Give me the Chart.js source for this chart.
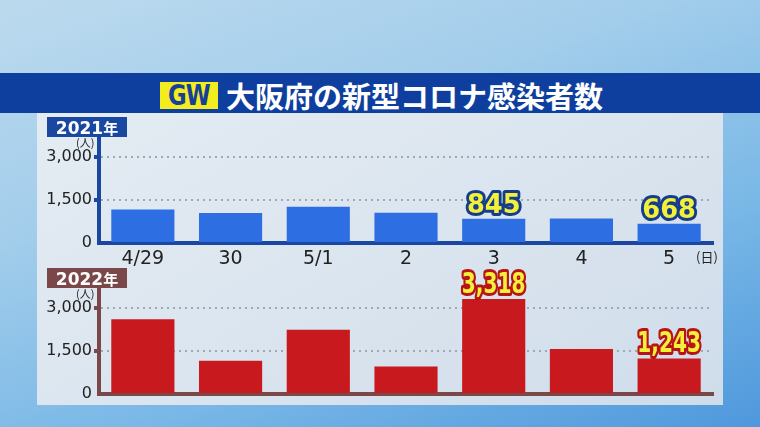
<!DOCTYPE html>
<html>
<head>
<meta charset="utf-8">
<script src="https://cdn.jsdelivr.net/npm/chart.js@4"></script>
<style>
  body {
    margin: 0;
    width: 760px;
    height: 427px;
    overflow: hidden;
    position: relative;
    font-family: "Noto Sans CJK JP", sans-serif;
    background: linear-gradient(160deg, #bcdaee 0%, #a2cdeb 35%, #76b6e6 70%, #4f98dc 100%);
  }
  #band {
    position: absolute; left: 0; top: 73px; width: 760px; height: 40px;
    background: #0f3f9e;
  }
  #gw {
    position: absolute; left: 160px; top: 82px; width: 58px; height: 27px;
    background: #f3ec1e; color: #16409a;
    font: bold 29px "DejaVu Sans", sans-serif; line-height: 27px; text-align: center;
    letter-spacing: -1px;
  }
  #gw span { display: inline-block; transform: scaleX(0.78); }
  #title {
    position: absolute; left: 226px; top: 75px; height: 40px; line-height: 40px;
    color: #fff; font-weight: bold; font-size: 29px; white-space: nowrap;
  }
  #panel {
    position: absolute; left: 37px; top: 113px; width: 686px; height: 292px;
    background: linear-gradient(150deg, #e4ecf3 0%, #dbe5ef 50%, #cfdcea 100%);
  }
  .year {
    position: absolute; left: 47px; width: 80px; height: 20px; line-height: 20px;
    color: #fff; font: bold 17px "DejaVu Sans", sans-serif; text-align: center;
  }
  .year span { font-family: "Noto Sans CJK JP", sans-serif; font-size: 15px; }
  .unit {
    position: absolute; color: #222; font-size: 11px; line-height: 12px;
  }
  .wrap { position: absolute; left: 0; width: 760px; }
</style>
</head>
<body>
<div id="band"></div>
<div id="gw"><span>GW</span></div>
<div id="title">大阪府の新型コロナ感染者数</div>
<div id="panel"></div>

<div class="wrap" style="top:110px;height:160px"><canvas id="c2021" width="760" height="160"></canvas></div>
<div class="wrap" style="top:260px;height:150px"><canvas id="c2022" width="760" height="150"></canvas></div>

<div class="year" style="top:117px;background:#1a47a0">2021<span>年</span></div>
<div class="year" style="top:268px;background:#7a4848">2022<span>年</span></div>
<div class="unit" style="left:76px;top:136px">(人)</div>
<div class="unit" style="left:76px;top:287px">(人)</div>
<div class="unit" style="left:696px;top:251px;font-size:13px">(日)</div>

<script>
// data
const days = ["4/29", "30", "5/1", "2", "3", "4", "5"];
const cases2021 = [1172, 1049, 1262, 1057, 845, 859, 668];
const cases2022 = [2610, 1160, 2240, 960, 3318, 1570, 1243];
const yTicks = [0, 1500, 3000];
const yMax = 3700;
const labelIdx = [4, 6]; // bars with a value label

function valueLabels(outline, fontSize, squeeze) {
  return {
    id: "valueLabels",
    afterDatasetsDraw(chart) {
      const ctx = chart.ctx;
      const meta = chart.getDatasetMeta(0);
      const vals = chart.data.datasets[0].data;
      labelIdx.forEach(i => {
        const bar = meta.data[i];
        const txt = vals[i].toLocaleString("en-US");
        ctx.save();
        ctx.translate(bar.x, bar.y - 6);
        ctx.scale(squeeze, 1);
        ctx.font = "bold " + fontSize + "px 'DejaVu Sans'";
        ctx.textAlign = "center";
        ctx.textBaseline = "alphabetic";
        ctx.lineJoin = "round";
        ctx.lineWidth = 6;
        ctx.strokeStyle = outline;
        ctx.strokeText(txt, 0, 0);
        ctx.fillStyle = "#f2f03a";
        ctx.fillText(txt, 0, 0);
        ctx.restore();
      });
    }
  };
}

function makeChart(id, values, barColor, axisColor, outline, showX, padTop, fontSize, squeeze) {
  const h = document.getElementById(id).height;
  return new Chart(document.getElementById(id), {
    type: "bar",
    data: {
      labels: days,
      datasets: [{
        data: values,
        backgroundColor: barColor,
        categoryPercentage: 1,
        barPercentage: 0.72
      }]
    },
    options: {
      responsive: false,
      animation: false,
      layout: { padding: { left: 0, right: 47, top: padTop, bottom: 0 } },
      plugins: { legend: { display: false }, tooltip: { enabled: false } },
      scales: {
        x: {
          grid: { display: false, drawTicks: false },
          border: { display: true, color: axisColor, width: 4 },
          ticks: {
            display: showX,
            padding: 5,
            color: "#222",
            font: { family: "DejaVu Sans", size: 19 }
          },
          afterFit: s => { s.height = h - padTop - 106; }
        },
        y: {
          min: 0,
          max: yMax,
          afterBuildTicks: s => { s.ticks = yTicks.map(v => ({ value: v })); },
          grid: {
            color: c => (c.tick && c.tick.value === 0) ? "rgba(0,0,0,0)" : "#9ea9b6",
            lineWidth: 2,
            tickLength: 5,
            tickWidth: 4,
            tickColor: c => (c.tick && c.tick.value === 0) ? "rgba(0,0,0,0)" : axisColor
          },
          border: { display: true, color: axisColor, width: 4, dash: [2, 4] },
          ticks: {
            padding: 2,
            color: "#222",
            font: { family: "DejaVu Sans", size: 16 },
            callback: v => v.toLocaleString("en-US")
          },
          afterFit: s => { s.width = 99; }
        }
      }
    },
    plugins: [valueLabels(outline, fontSize, squeeze)]
  });
}

makeChart("c2021", cases2021, "#2d6fe2", "#1a47a0", "#163c8c", true, 27, 27, 0.95);
makeChart("c2022", cases2022, "#c8191e", "#7a4848", "#b81414", false, 28, 28, 0.72);
</script>
</body>
</html>
